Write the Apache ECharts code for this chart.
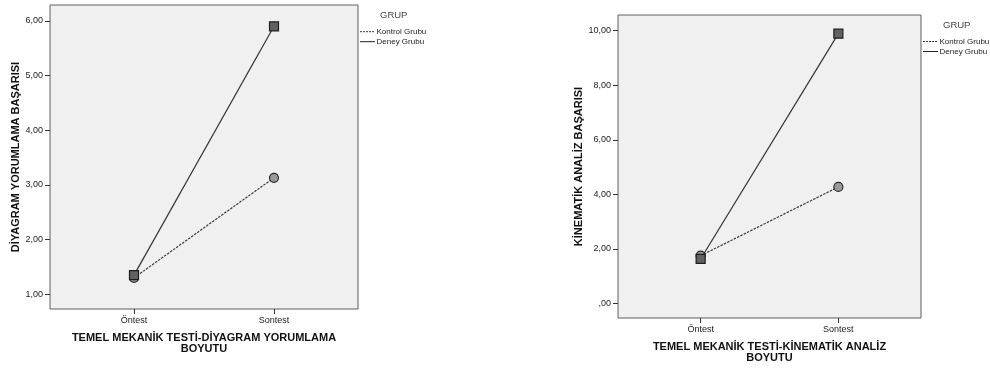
<!DOCTYPE html>
<html><head><meta charset="utf-8">
<script src="https://cdn.jsdelivr.net/npm/echarts@6/dist/echarts.min.js"></script>
<style>html,body{margin:0;padding:0;background:#fff}#c{width:990px;height:369px}</style>
</head><body><div id="c"></div>
<script>
const categories = ['Öntest', 'Sontest'];
const groupNames = ['Kontrol Grubu', 'Deney Grubu'];
const legendTitle = 'GRUP';

// Chart 1: Diyagram yorumlama
const diyKontrol = [1.30, 3.13];
const diyDeney = [1.35, 5.90];
const diyTicks = [1, 2, 3, 4, 5, 6];
const diyYTitle = 'DİYAGRAM YORUMLAMA BAŞARISI';
const diyXTitle = 'TEMEL MEKANİK TESTİ-DİYAGRAM YORUMLAMA\nBOYUTU';

// Chart 2: Kinematik analiz
const kinKontrol = [1.75, 4.27];
const kinDeney = [1.63, 9.89];
const kinTicks = [0, 2, 4, 6, 8, 10];
const kinYTitle = 'KİNEMATİK ANALİZ BAŞARISI';
const kinXTitle = 'TEMEL MEKANİK TESTİ-KİNEMATİK ANALİZ\nBOYUTU';

const FONT = 'Liberation Sans, Arial, sans-serif';
function fmtY(v) {
  let s = v.toFixed(2).replace('.', ',');
  if (s.startsWith('0,')) s = s.slice(1);
  return s;
}
function toPts(arr) { return arr.map((v, i) => [i, v]); }

const chart = echarts.init(document.getElementById('c'), null, {renderer: 'canvas'});

function xAxis(gi, title, gap) {
  return {
    type: 'value', gridIndex: gi, min: -0.6, max: 1.6,
    axisLine: {show: false, onZero: false},
    splitLine: {show: false},
    axisTick: {show: true, length: 5, customValues: [0, 1], lineStyle: {color: '#333'}},
    axisLabel: {show: true, customValues: [0, 1], margin: 7, fontSize: 9, fontFamily: FONT, color: '#222',
      formatter: v => categories[Math.round(v)] || ''},
    name: title, nameLocation: 'middle', nameGap: gap,
    nameTextStyle: {fontSize: 11, fontWeight: 'bold', fontFamily: FONT, color: '#111', lineHeight: 11.5, align: 'center'}
  };
}
function yAxis(gi, min, max, ticks, title, gap) {
  return {
    type: 'value', gridIndex: gi, min: min, max: max,
    axisLine: {show: false, onZero: false},
    splitLine: {show: false},
    axisTick: {show: true, length: 5, customValues: ticks, lineStyle: {color: '#333'}},
    axisLabel: {show: true, customValues: ticks, margin: 7, fontSize: 9, fontFamily: FONT, color: '#222',
      formatter: v => fmtY(v)},
    name: title, nameLocation: 'middle', nameGap: gap, nameRotate: 90,
    nameTextStyle: {fontSize: 11, fontWeight: 'bold', fontFamily: FONT, color: '#111'}
  };
}
function kontrolSeries(gi, data) {
  return {
    type: 'line', name: groupNames[0], xAxisIndex: gi, yAxisIndex: gi, data: toPts(data),
    symbol: 'circle', symbolSize: 9, z: 3,
    lineStyle: {color: '#3a3a3a', width: 1.2, type: [2.5, 1.2]},
    itemStyle: {color: '#9a9a9a', borderColor: '#2a2a2a', borderWidth: 1.2},
    emphasis: {disabled: true}, animation: false
  };
}
function deneySeries(gi, data) {
  return {
    type: 'line', name: groupNames[1], xAxisIndex: gi, yAxisIndex: gi, data: toPts(data),
    symbol: 'rect', symbolSize: 9, z: 4,
    lineStyle: {color: '#333', width: 1.2, type: 'solid'},
    itemStyle: {color: '#626262', borderColor: '#1e1e1e', borderWidth: 1.2},
    emphasis: {disabled: true}, animation: false
  };
}
function legendGraphics(x0, yTitle) {
  return [
    {type: 'text', x: x0 + 20, y: yTitle, style: {text: legendTitle, font: '9.5px ' + FONT, fill: '#444', verticalAlign: 'middle'}},
    {type: 'line', shape: {x1: x0, y1: yTitle + 16, x2: x0 + 15, y2: yTitle + 16}, style: {stroke: '#333', lineWidth: 1, lineDash: [2, 1]}},
    {type: 'text', x: x0 + 16.5, y: yTitle + 16, style: {text: groupNames[0], font: '8px ' + FONT, fill: '#222', verticalAlign: 'middle'}},
    {type: 'line', shape: {x1: x0, y1: yTitle + 26, x2: x0 + 15, y2: yTitle + 26}, style: {stroke: '#222', lineWidth: 1}},
    {type: 'text', x: x0 + 16.5, y: yTitle + 26, style: {text: groupNames[1], font: '8px ' + FONT, fill: '#222', verticalAlign: 'middle'}}
  ];
}

chart.setOption({
  animation: false,
  backgroundColor: '#fff',
  grid: [
    {left: 50, top: 5, width: 308, height: 304, show: true, backgroundColor: '#f0f0f0', borderColor: '#5e5e5e', borderWidth: 1},
    {left: 618, top: 15, width: 303, height: 303, show: true, backgroundColor: '#f0f0f0', borderColor: '#5e5e5e', borderWidth: 1}
  ],
  xAxis: [xAxis(0, diyXTitle, 23), xAxis(1, kinXTitle, 23)],
  yAxis: [yAxis(0, 0.73, 6.29, diyTicks, diyYTitle, 29), yAxis(1, -0.535, 10.575, kinTicks, kinYTitle, 34)],
  series: [kontrolSeries(0, diyKontrol), deneySeries(0, diyDeney), kontrolSeries(1, kinKontrol), deneySeries(1, kinDeney)],
  graphic: legendGraphics(360, 15.7).concat(legendGraphics(923, 25.5))
});
</script></body></html>
